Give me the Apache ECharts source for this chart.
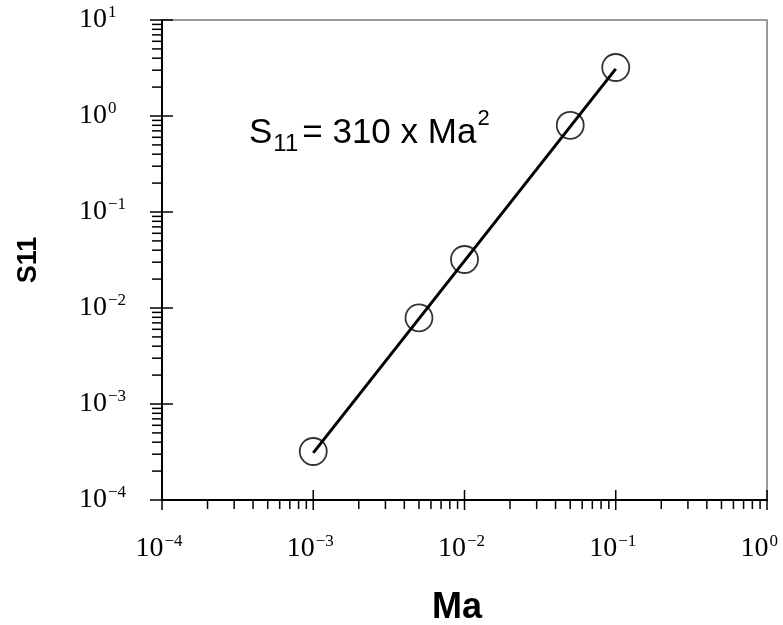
<!DOCTYPE html>
<html><head><meta charset="utf-8">
<script src="https://cdn.jsdelivr.net/npm/echarts@6/dist/echarts.min.js"></script>
<style>html,body{margin:0;padding:0;background:#fff}#c{width:783px;height:625px}</style>
</head><body><div id="c"></div>
<script>
// ---- data ----
const maValues = [0.001, 0.005, 0.01, 0.05, 0.1];
const s11Values = [0.00032, 0.0079, 0.032, 0.80, 3.2];
const fitMa = [0.001, 0.1];
const fitS11 = [0.00031, 3.1];
const xDecades = [1e-4, 1e-3, 1e-2, 1e-1, 1];
const yDecades = [1e-4, 1e-3, 1e-2, 1e-1, 1, 10];
const minorMultipliers = [2, 3, 4, 5, 6, 7, 8, 9];
const xMin = 1e-4, xMax = 1, yMin = 1e-4, yMax = 10;

// tick items: [x, y, kind] kind 0=x major,1=x minor,2=y major,3=y minor
const tickItems = [];
xDecades.forEach((d, i) => {
  tickItems.push([d, yMin, 0]);
  if (i < xDecades.length - 1) minorMultipliers.forEach(m => tickItems.push([d * m, yMin, 1]));
});
yDecades.forEach((d, i) => {
  tickItems.push([xMin, d, 2]);
  if (i < yDecades.length - 1) minorMultipliers.forEach(m => tickItems.push([xMin, d * m, 3]));
});

function expLabel(v) {
  const e = Math.round(Math.log10(v));
  const s = e < 0 ? '\u2212' + (-e) : String(e);
  return '{b|10}{s|' + s + '}';
}
const serif = 'Liberation Serif';
const xRich = {
  b: { fontFamily: serif, fontSize: 28, color: '#000', lineHeight: 28, width: 28, align: 'left', verticalAlign: 'bottom' },
  s: { fontFamily: serif, fontSize: 17, color: '#000', lineHeight: 17, width: 24, align: 'left', verticalAlign: 'bottom', padding: [0, 0, 13, 1] }
};
const yRich = {
  b: { fontFamily: serif, fontSize: 28, color: '#000', lineHeight: 28, width: 28, align: 'left', verticalAlign: 'bottom', padding: [8, 0, 0, 0] },
  s: { fontFamily: serif, fontSize: 17, color: '#000', lineHeight: 17, width: 24, align: 'left', verticalAlign: 'bottom', padding: [0, 0, 13, 1] }
};

const chart = echarts.init(document.getElementById('c'));
chart.setOption({
  animation: false,
  backgroundColor: '#fff',
  grid: { left: 162, right: 16, top: 20, bottom: 125, show: true, borderColor: '#9a9a9a', borderWidth: 2, backgroundColor: 'transparent', containLabel: false, outerBoundsMode: 'none' },
  xAxis: {
    type: 'log', logBase: 10, min: xMin, max: xMax,
    name: 'Ma', nameLocation: 'middle', nameGap: 90,
    nameTextStyle: { fontFamily: 'Liberation Sans', fontWeight: 'bold', fontSize: 36, color: '#000', padding: [0, 15, 0, 0] },
    axisLine: { lineStyle: { color: '#000', width: 2 } },
    axisTick: { show: false }, splitLine: { show: false }, minorTick: { show: false },
    axisLabel: { margin: 35, fontSize: 28, fontFamily: serif, color: '#000', formatter: expLabel, rich: xRich, showMinLabel: true, showMaxLabel: true }
  },
  yAxis: {
    type: 'log', logBase: 10, min: yMin, max: yMax,
    name: 'S11', nameLocation: 'middle', nameGap: 120, nameRotate: 90,
    nameTextStyle: { fontFamily: 'Liberation Sans', fontWeight: 'bold', fontSize: 27, color: '#000' },
    axisLine: { lineStyle: { color: '#000', width: 2 } },
    axisTick: { show: false }, splitLine: { show: false }, minorTick: { show: false },
    axisLabel: { margin: 30, fontSize: 28, fontFamily: serif, color: '#000', formatter: expLabel, rich: yRich, showMinLabel: true, showMaxLabel: true }
  },
  graphic: [{
    type: 'text', left: 249, top: 108, z: 100,
    style: {
      text: '{a|S}{sub|11}{eq|= 310 x Ma}{sup|2}',
      rich: {
        a: { fontFamily: 'Liberation Sans', fontSize: 35, color: '#000', lineHeight: 35, verticalAlign: 'bottom', padding: [0, 0, 5, 0] },
        eq: { fontFamily: 'Liberation Sans', fontSize: 35, color: '#000', lineHeight: 35, verticalAlign: 'bottom', padding: [0, 0, 5, 4] },
        sub: { fontFamily: 'Liberation Sans', fontSize: 24, color: '#000', lineHeight: 24, verticalAlign: 'bottom', padding: [0, 0, 0, 1] },
        sup: { fontFamily: 'Liberation Sans', fontSize: 22, color: '#000', lineHeight: 22, verticalAlign: 'bottom', padding: [0, 0, 26, 1] }
      }
    }
  }],
  series: [
    {
      type: 'custom', clip: false, silent: true, z: 5,
      data: tickItems,
      renderItem: function (params, api) {
        const p = api.coord([api.value(0), api.value(1)]);
        const k = api.value(2);
        let shape;
        if (k === 0) shape = { x1: p[0], y1: p[1] - 10, x2: p[0], y2: p[1] + 10 };
        else if (k === 1) shape = { x1: p[0], y1: p[1], x2: p[0], y2: p[1] + 9 };
        else if (k === 2) shape = { x1: p[0] - 12, y1: p[1], x2: p[0] + 11, y2: p[1] };
        else shape = { x1: p[0] - 10, y1: p[1], x2: p[0], y2: p[1] };
        return { type: 'line', shape: shape, style: { stroke: '#000', lineWidth: 1.5 } };
      }
    },
    {
      type: 'line', data: fitMa.map((x, i) => [x, fitS11[i]]),
      symbol: 'none', lineStyle: { color: '#000', width: 3 }, z: 3
    },
    {
      type: 'scatter', data: maValues.map((x, i) => [x, s11Values[i]]),
      symbol: 'circle', symbolSize: 27,
      itemStyle: { color: 'rgba(0,0,0,0)', borderColor: '#000', borderWidth: 1.8 }, z: 4
    }
  ]
});
</script></body></html>
